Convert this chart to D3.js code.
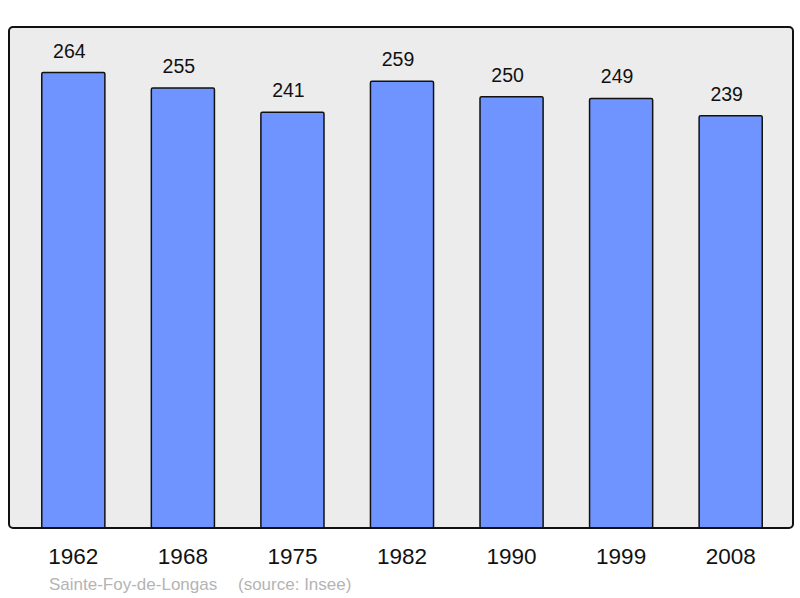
<!DOCTYPE html>
<html>
<head>
<meta charset="utf-8">
<script src="https://cdn.jsdelivr.net/npm/d3@7"></script>
<style>
  body { margin: 0; background: #fff; }
  svg { display: block; font-family: "Liberation Sans", Arial, sans-serif; }
</style>
</head>
<body>
<svg id="chart" width="800" height="598"></svg>
<script>
const years = ["1962", "1968", "1975", "1982", "1990", "1999", "2008"];
const population = [264, 255, 241, 259, 250, 249, 239];
const commune = "Sainte-Foy-de-Longas";
const source = "(source: Insee)";

const svg = d3.select("#chart");
const frame = { left: 9, top: 27, right: 793, bottom: 528 };

// background panel
svg.append("rect")
  .attr("x", frame.left)
  .attr("y", frame.top)
  .attr("width", frame.right - frame.left)
  .attr("height", frame.bottom - frame.top)
  .attr("rx", 4)
  .attr("fill", "#ececec");

const x = d3.scaleBand()
  .domain(years)
  .range([frame.left + 1, frame.right + 1])
  .paddingInner(0.424)
  .paddingOuter(0.29);

const y = d3.scaleLinear()
  .domain([0, d3.max(population) * 1.1])
  .range([frame.bottom, frame.top]);

const data = years.map((yr, i) => ({ year: yr, value: population[i] }));

svg.append("g")
  .selectAll("rect")
  .data(data)
  .enter().append("rect")
  .attr("x", d => x(d.year))
  .attr("y", d => y(d.value))
  .attr("width", x.bandwidth())
  .attr("height", d => frame.bottom - y(d.value))
  .attr("rx", 1.5)
  .attr("fill", "#7094ff")
  .attr("stroke", "#111")
  .attr("stroke-width", 1.5);

// value labels (sit slightly left of bar centre in the original)
svg.append("g")
  .selectAll("text")
  .data(data)
  .enter().append("text")
  .attr("x", d => x(d.year) + x.bandwidth() / 2 - 4)
  .attr("y", d => y(d.value) - 15)
  .attr("text-anchor", "middle")
  .attr("font-size", 19.5)
  .attr("fill", "#111")
  .text(d => d.value);

// frame outline on top
svg.append("rect")
  .attr("x", frame.left)
  .attr("y", frame.top)
  .attr("width", frame.right - frame.left)
  .attr("height", frame.bottom - frame.top)
  .attr("rx", 4)
  .attr("fill", "none")
  .attr("stroke", "#111")
  .attr("stroke-width", 2);

// year labels
const xAxis = svg.append("g")
  .attr("transform", `translate(0,${frame.bottom})`)
  .call(d3.axisBottom(x).tickSize(0).tickPadding(0));
xAxis.select(".domain").remove();
xAxis.selectAll("text")
  .attr("y", 36)
  .attr("dy", 0)
  .attr("font-size", 22.5)
  .attr("font-family", "Liberation Sans, Arial, sans-serif")
  .attr("fill", "#111");

svg.append("text")
  .attr("x", 49)
  .attr("y", 590)
  .attr("font-size", 17)
  .attr("fill", "#b4b4b4")
  .text(commune);

svg.append("text")
  .attr("x", 238)
  .attr("y", 590)
  .attr("font-size", 17)
  .attr("fill", "#b4b4b4")
  .text(source);
</script>
</body>
</html>
